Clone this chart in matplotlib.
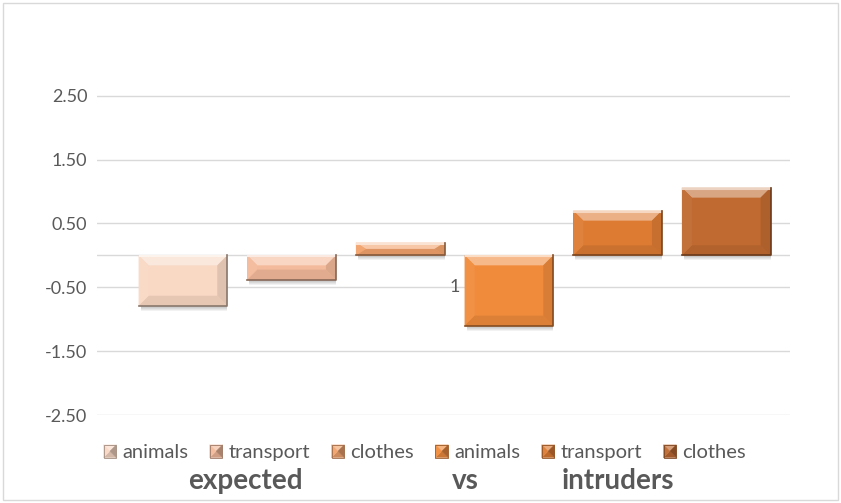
import numpy as np
import matplotlib
matplotlib.use("Agg")
import matplotlib.pyplot as plt
import matplotlib.colors as mcolors
from matplotlib.patches import Polygon, Rectangle, Patch
from matplotlib.legend_handler import HandlerPatch

plt.rcParams['font.family'] = ['Lato', 'DejaVu Sans']

# data
series = ["animals", "transport", "clothes", "animals", "transport", "clothes"]
values = [-0.79, -0.38, 0.20, -1.10, 0.70, 1.06]
colors = ["#F9D8C4", "#F3BA9B", "#F1A26C", "#F08B3C", "#DD7B33", "#C06A31"]
yticks = [-2.5, -1.5, -0.5, 0.5, 1.5, 2.5]
category = "1"
title_words = ["expected", "vs", "intruders"]


def shade(c, f):
    r = np.array(mcolors.to_rgb(c))
    if f > 0:
        r = r + (1 - r) * f
    else:
        r = r * (1 + f)
    return tuple(np.clip(r, 0, 1))


class BevelHandler(HandlerPatch):
    # little pyramid square like the excel legend keys
    def create_artists(self, legend, orig_handle, xd, yd, w, h, fontsize, trans):
        c = orig_handle.get_facecolor()
        s = min(w, h) * 0.9
        x0 = xd + w - s
        y0 = yd + (h - s) / 2 - 0.5
        cx, cy = x0 + s / 2, y0 + s / 2
        arts = []
        tri = [([(x0, y0 + s), (x0 + s, y0 + s), (cx, cy)], 0.35),
               ([(x0, y0), (x0 + s, y0), (cx, cy)], -0.15),
               ([(x0, y0), (x0, y0 + s), (cx, cy)], 0.05),
               ([(x0 + s, y0), (x0 + s, y0 + s), (cx, cy)], -0.3)]
        for pts, f in tri:
            arts.append(Polygon(pts, closed=True, facecolor=shade(c, f),
                                edgecolor=shade(c, f), lw=0.3))
        arts.append(Rectangle((x0, y0), s, s, facecolor='none',
                              edgecolor=shade(c, -0.35), lw=0.6))
        for a in arts:
            a.set_transform(trans)
        return arts


W, H = 841, 503
fig = plt.figure(figsize=(W / 100, H / 100), dpi=100)
ax = fig.add_axes([97 / W, 1 - 415 / H, (790 - 97) / W, (415 - 35) / H])

ymin, ymax = -2.5, 3.45
ax.set_ylim(ymin, ymax)
ax.set_xlim(-0.5, 0.5)

n = len(values)
bw = 0.128
step = bw * 1.225
center = 0.016
xs = [center + (i - (n - 1) / 2) * step for i in range(n)]

# pixel -> data conversion for bevel sizes
pos = ax.get_position()
px_x = 1.0 / (pos.width * W)
px_y = (ymax - ymin) / (pos.height * H)
bev = 10

for y in yticks:
    ax.axhline(y, color='#D9D9D9', lw=1, zorder=0)
ax.axhline(0, color='#D9D9D9', lw=1, zorder=0)

handles = []
for x, v, c, lab in zip(xs, values, colors, series):
    # soft shadow
    for k in range(4):
        ax.add_patch(Rectangle((x - bw / 2 + 2 * px_x, min(0, v) - (2 + k) * px_y),
                               bw - 2 * px_x, abs(v), facecolor='black',
                               alpha=0.05, edgecolor='none', zorder=1))
    bars = ax.bar(x, v, width=bw, color=c, edgecolor='none', zorder=2)
    r = bars[0]
    x0, x1 = r.get_x(), r.get_x() + r.get_width()
    y0, y1 = sorted([r.get_y(), r.get_y() + r.get_height()])
    dx = bev * px_x
    dy = min(bev * px_y, (y1 - y0) / 2)
    top = [(x0, y1), (x1, y1), (x1 - dx, y1 - dy), (x0 + dx, y1 - dy)]
    bot = [(x0, y0), (x1, y0), (x1 - dx, y0 + dy), (x0 + dx, y0 + dy)]
    left = [(x0, y0), (x0, y1), (x0 + dx, y1 - dy), (x0 + dx, y0 + dy)]
    right = [(x1, y0), (x1, y1), (x1 - dx, y1 - dy), (x1 - dx, y0 + dy)]
    for pts, f in [(top, 0.4), (bot, -0.08), (left, 0.05), (right, -0.1)]:
        ax.add_patch(Polygon(pts, closed=True, facecolor=shade(c, f),
                             edgecolor='none', zorder=3))
    # bright highlight along the top edge
    ax.plot([x0 + px_x, x1 - px_x], [y1 - px_y, y1 - px_y], color=shade(c, 0.7),
            lw=1.5, zorder=4)
    ax.plot([x1, x1, x0], [y1, y0, y0], color=shade(c, -0.45), lw=1.2, zorder=4)
    handles.append(Patch(facecolor=c, label=lab))

ax.text(xs[3] - bw / 2 - 5 * px_x, -0.5, category, ha='right', va='center',
        fontsize=13, color='#595959')

ax.set_yticks(yticks)
ax.set_yticklabels([f"{t:.2f}" for t in yticks])
ax.tick_params(axis='y', length=0, labelsize=13, labelcolor='#595959', pad=7)
ax.set_xticks([])
for s in ax.spines.values():
    s.set_visible(False)

leg = fig.legend(handles=handles, loc='center', bbox_to_anchor=(424 / W, 1 - 452 / H),
                 ncol=6, frameon=False, fontsize=14.5, handler_map={Patch: BevelHandler()},
                 handlelength=0.7, handletextpad=0.3, columnspacing=1.0)
for t in leg.get_texts():
    t.set_color('#595959')

for word, xp in zip(title_words, [245, 465, 618]):
    fig.text(xp / W, 1 - 481 / H, word, ha='center', va='center', fontsize=20,
             fontweight='bold', color='#595959')

fig.add_artist(Rectangle((3 / W, 3 / H), (W - 6) / W, (H - 6) / H, transform=fig.transFigure,
                         facecolor='none', edgecolor='#D9D9D9', lw=1))

fig.savefig("out.png", dpi=100)
